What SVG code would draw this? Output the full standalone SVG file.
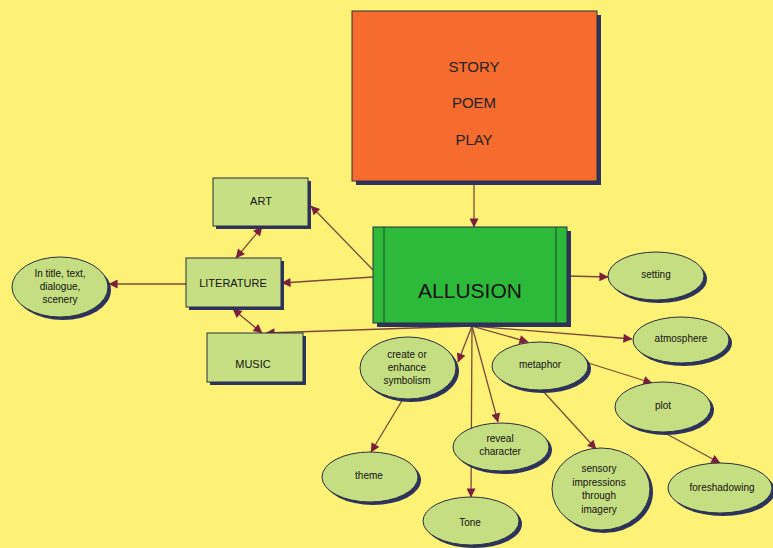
<svg xmlns="http://www.w3.org/2000/svg" width="773" height="548" viewBox="0 0 773 548">
<defs>
<marker id="ah" viewBox="0 0 10 10" refX="9.5" refY="5" markerWidth="11" markerHeight="9" markerUnits="userSpaceOnUse" orient="auto-start-reverse">
<path d="M0,0 L10,5 L0,10 z" fill="#7d1f3c"/>
</marker>
<style>
.bg{fill:#fdf176}
.sh{fill:#2c3360}
.box{fill:#c7df83;stroke:#2a2f40;stroke-width:1}
.ov{fill:#c6de82;stroke:#2a2f40;stroke-width:1}
.t{font-family:"Liberation Sans",Arial,sans-serif;font-size:10px;fill:#111;text-anchor:middle}
.tb{font-family:"Liberation Sans",Arial,sans-serif;font-size:11px;fill:#111;text-anchor:middle}
.tl{font-family:"Liberation Sans",Arial,sans-serif;font-size:15px;fill:#222;text-anchor:middle}
.c{fill:none;stroke:#7a4a3c;stroke-width:1.3}
</style>
</defs>
<rect class="bg" x="0" y="0" width="773" height="548"/>

<g id="connectors">
<line class="c" x1="474" y1="181" x2="474" y2="227" marker-end="url(#ah)"/>
<line class="c" x1="373" y1="270" x2="311" y2="206" marker-end="url(#ah)"/>
<line class="c" x1="373" y1="277" x2="282" y2="283" marker-end="url(#ah)"/>
<line class="c" x1="236" y1="258" x2="262" y2="227" marker-start="url(#ah)" marker-end="url(#ah)"/>
<line class="c" x1="186" y1="284" x2="109" y2="284" marker-end="url(#ah)"/>
<line class="c" x1="233" y1="309" x2="262" y2="333" marker-start="url(#ah)" marker-end="url(#ah)"/>
<line class="c" x1="472" y1="326" x2="266" y2="333" marker-end="url(#ah)"/>
<line class="c" x1="567" y1="276" x2="608" y2="277" marker-end="url(#ah)"/>
<line class="c" x1="472" y1="326" x2="632" y2="339" marker-end="url(#ah)"/>
<line class="c" x1="472" y1="326" x2="528" y2="342" marker-end="url(#ah)"/>
<line class="c" x1="472" y1="326" x2="458" y2="362" marker-end="url(#ah)"/>
<line class="c" x1="472" y1="326" x2="498" y2="422" marker-end="url(#ah)"/>
<line class="c" x1="472" y1="326" x2="471" y2="497" marker-end="url(#ah)"/>
<line class="c" x1="585" y1="362" x2="652" y2="383" marker-end="url(#ah)"/>
<line class="c" x1="542" y1="390" x2="596" y2="449" marker-end="url(#ah)"/>
<line class="c" x1="403" y1="399" x2="371" y2="452" marker-end="url(#ah)"/>
<line class="c" x1="663" y1="432" x2="720" y2="463" marker-end="url(#ah)"/>
</g>

<g id="source">
<rect class="sh" x="356" y="15" width="245" height="170"/>
<rect x="352" y="11" width="245" height="170" fill="#f56c2e" stroke="#2a2f40" stroke-width="1"/>
<text class="tl" x="474" y="72">STORY</text>
<text class="tl" x="474" y="108">POEM</text>
<text class="tl" x="474" y="145">PLAY</text>
</g>

<g id="allusion">
<rect class="sh" x="377" y="231" width="194" height="96"/>
<rect x="373" y="227" width="194" height="96" fill="#2db93a" stroke="#2a2f40" stroke-width="1"/>
<line x1="384" y1="227" x2="384" y2="323" stroke="#1d4a2a" stroke-width="1"/>
<line x1="556" y1="227" x2="556" y2="323" stroke="#1d4a2a" stroke-width="1"/>
<text x="470" y="298" font-family="&quot;Liberation Sans&quot;,Arial,sans-serif" font-size="21" fill="#111" text-anchor="middle">ALLUSION</text>
</g>

<g id="art">
<rect class="sh" x="216" y="181" width="95" height="48"/>
<rect class="box" x="213" y="178" width="95" height="48"/>
<text class="tb" x="261" y="205">ART</text>
</g>

<g id="literature">
<rect class="sh" x="189" y="261" width="95" height="49"/>
<rect class="box" x="186" y="258" width="95" height="49"/>
<text class="tb" x="233" y="287">LITERATURE</text>
</g>

<g id="music">
<rect class="sh" x="210" y="336" width="96" height="49"/>
<rect class="box" x="207" y="333" width="96" height="49"/>
<text class="tb" x="253" y="368">MUSIC</text>
</g>

<g id="scenery">
<ellipse class="sh" cx="63" cy="290" rx="48" ry="30"/>
<ellipse class="ov" cx="60" cy="287" rx="48" ry="30"/>
<text class="t" x="60" y="277">In title, text,</text>
<text class="t" x="60" y="290">dialogue,</text>
<text class="t" x="60" y="303">scenery</text>
</g>

<g id="setting">
<ellipse class="sh" cx="659" cy="279" rx="48" ry="24"/>
<ellipse class="ov" cx="656" cy="276" rx="48" ry="24"/>
<text class="t" x="656" y="278">setting</text>
</g>

<g id="atmosphere">
<ellipse class="sh" cx="684" cy="343" rx="48" ry="23"/>
<ellipse class="ov" cx="681" cy="340" rx="48" ry="23"/>
<text class="t" x="681" y="342">atmosphere</text>
</g>

<g id="symbolism">
<ellipse class="sh" cx="411" cy="371" rx="48" ry="31"/>
<ellipse class="ov" cx="408" cy="368" rx="48" ry="31"/>
<text class="t" x="407" y="358">create or</text>
<text class="t" x="407" y="371">enhance</text>
<text class="t" x="407" y="384">symbolism</text>
</g>

<g id="metaphor">
<ellipse class="sh" cx="543" cy="369" rx="48" ry="24"/>
<ellipse class="ov" cx="540" cy="366" rx="48" ry="24"/>
<text class="t" x="540" y="368">metaphor</text>
</g>

<g id="plot">
<ellipse class="sh" cx="666" cy="410" rx="48" ry="25"/>
<ellipse class="ov" cx="663" cy="407" rx="48" ry="25"/>
<text class="t" x="663" y="409">plot</text>
</g>

<g id="reveal">
<ellipse class="sh" cx="504" cy="450" rx="48" ry="24"/>
<ellipse class="ov" cx="501" cy="447" rx="48" ry="24"/>
<text class="t" x="500" y="442">reveal</text>
<text class="t" x="500" y="455">character</text>
</g>

<g id="theme">
<ellipse class="sh" cx="373" cy="480" rx="48" ry="25"/>
<ellipse class="ov" cx="370" cy="477" rx="48" ry="25"/>
<text class="t" x="369" y="479">theme</text>
</g>

<g id="tone">
<ellipse class="sh" cx="474" cy="524" rx="48" ry="24"/>
<ellipse class="ov" cx="471" cy="521" rx="48" ry="24"/>
<text class="t" x="470" y="526">Tone</text>
</g>

<g id="sensory">
<ellipse class="sh" cx="604" cy="492" rx="49" ry="41"/>
<ellipse class="ov" cx="601" cy="489" rx="49" ry="41"/>
<text class="t" x="599" y="472">sensory</text>
<text class="t" x="599" y="486">impressions</text>
<text class="t" x="599" y="499">through</text>
<text class="t" x="599" y="513">imagery</text>
</g>

<g id="foreshadowing">
<ellipse class="sh" cx="723" cy="491" rx="52" ry="25"/>
<ellipse class="ov" cx="720" cy="488" rx="52" ry="25"/>
<text class="t" x="722" y="491">foreshadowing</text>
</g>
</svg>
